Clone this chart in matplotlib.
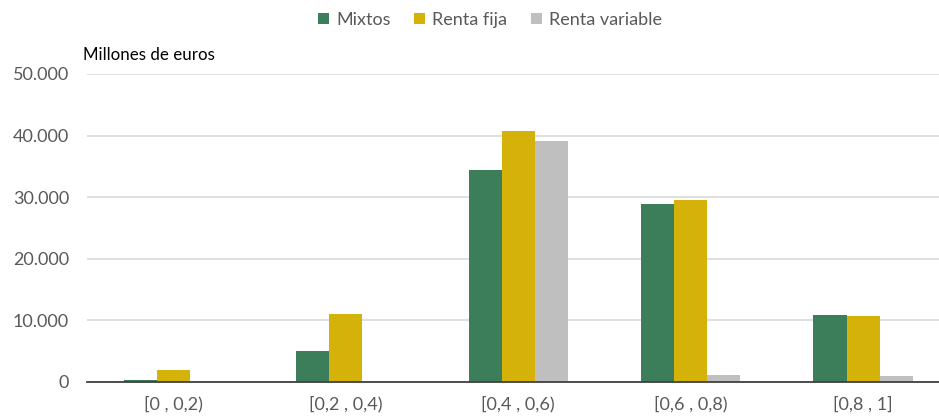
import matplotlib
matplotlib.use("Agg")
import matplotlib.pyplot as plt
import numpy as np
from matplotlib.ticker import FuncFormatter

categories = ["[0 , 0,2)", "[0,2 , 0,4)", "[0,4 , 0,6)", "[0,6 , 0,8)", "[0,8 , 1]"]
mixtos = [300, 5000, 34400, 28900, 10900]
renta_fija = [2000, 11000, 40700, 29500, 10700]
renta_variable = [0, 0, 39100, 1200, 1000]
series_names = ["Mixtos", "Renta fija", "Renta variable"]
colors = ["#3c7e59", "#d4b20a", "#bfbfbf"]

plt.rcParams['font.family'] = ['Lato', 'DejaVu Sans']

fig = plt.figure(figsize=(9.39, 4.18), dpi=100)
ax = fig.add_axes([87/939, 36/418, 1 - 87/939, (382-74)/418])

x = np.arange(len(categories))
w = 0.192
for i, (vals, name, c) in enumerate(zip([mixtos, renta_fija, renta_variable], series_names, colors)):
    ax.bar(x + (i - 1) * w, vals, width=w, color=c, label=name, zorder=3, linewidth=0)

ax.set_xlim(-0.5, 4.44)
ax.set_ylim(0, 50000)
ax.set_yticks(np.arange(0, 50001, 10000))
ax.yaxis.set_major_formatter(FuncFormatter(lambda v, p: f"{int(v):,}".replace(",", ".")))
ax.set_xticks(x)
ax.set_xticklabels(categories)
ax.grid(axis='y', color='#d9d9d9', linewidth=1.2, zorder=0)
for s in ['top', 'right', 'left']:
    ax.spines[s].set_visible(False)
ax.spines['bottom'].set_color('#404040')
ax.spines['bottom'].set_linewidth(1.3)
ax.spines['bottom'].set_zorder(4)
ax.tick_params(axis='both', length=0, labelsize=13, colors='#595959')
ax.tick_params(axis='y', pad=13)
ax.tick_params(axis='x', pad=10)

fig.text(83/939, 1 - 55/418, "Millones de euros", fontsize=12.2, color='#000000', va='center', ha='left')

leg = fig.legend(loc='center', bbox_to_anchor=(490/939, 1 - 20/418), ncol=3, frameon=False,
                 fontsize=13, handlelength=0.6, handleheight=0.6, handletextpad=0.4,
                 columnspacing=1.3, labelcolor='#595959')
fig.savefig("out.png", dpi=100)
